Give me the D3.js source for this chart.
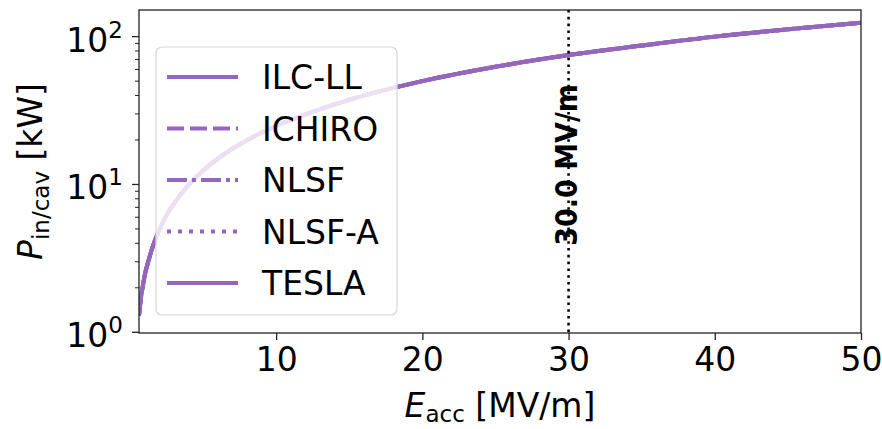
<!DOCTYPE html>
<html><head><meta charset="utf-8">
<script src="https://cdn.jsdelivr.net/npm/d3@7"></script>
<style>
body{margin:0;background:#fff}
svg{display:block}
text{font-family:"DejaVu Sans",sans-serif;fill:#000}
</style>
</head><body>
<svg id="chart" width="882" height="429"></svg>
<script>
// Accelerating gradient [MV/m] and input power per cavity [kW]
const eAcc = [0.62, 0.7, 0.8, 0.9, 1.0, 1.25, 1.5, 2, 2.5, 3, 4, 5, 6, 8, 10, 12.5, 15, 20, 25, 30, 35, 40, 45, 50];
const pIn  = [1.3, 1.55, 1.85, 2.1, 2.4, 3.0, 3.65, 4.9, 6.2, 7.4, 9.9, 12.4, 14.9, 19.9, 24.9, 31, 37.4, 50, 62.5, 75, 87, 100, 112, 124];

// Cavity shapes (all share the same power curve) and their line styles
const seriesNames = ["ILC-LL", "ICHIRO", "NLSF", "NLSF-A", "TESLA"];
const seriesDash  = [null, "17,6", "20,5,4,5", "4,7", null];

const xTicks = [10, 20, 30, 40, 50];
const yTickExp = [0, 1, 2];
const markerE = 30;
const markerLabel = "30.0 MV/m";

const m = {left: 139, right: 861, top: 10, bottom: 333};
const purple = "#9467bd";

const svg = d3.select("#chart");

const x = d3.scaleLinear().domain([0.62, 50]).range([m.left, m.right]);
const y = d3.scaleLog().domain([0.989, 151.4]).range([m.bottom, m.top]);

svg.append("defs").append("clipPath").attr("id", "plotclip")
  .append("rect").attr("x", m.left).attr("y", m.top)
  .attr("width", m.right - m.left).attr("height", m.bottom - m.top);

const pts = eAcc.map((e, i) => [e, pIn[i]]);
const line = d3.line().x(d => x(d[0])).y(d => y(d[1])).curve(d3.curveMonotoneX);

const plot = svg.append("g").attr("clip-path", "url(#plotclip)");
seriesNames.forEach((name, i) => {
  plot.append("path")
    .datum(pts)
    .attr("d", line)
    .attr("fill", "none")
    .attr("stroke", purple)
    .attr("stroke-width", 4)
    .attr("stroke-dasharray", seriesDash[i])
    .attr("stroke-linejoin", "round");
});

// vertical marker at the design gradient
plot.append("line")
  .attr("x1", x(markerE)).attr("x2", x(markerE))
  .attr("y1", m.top).attr("y2", m.bottom)
  .attr("stroke", "#000").attr("stroke-width", 2.6)
  .attr("stroke-dasharray", "2.6,4.2");

svg.append("text")
  .attr("transform", `translate(${x(markerE) + 8},165) rotate(-90) scale(1,1.12)`)
  .attr("text-anchor", "middle")
  .attr("font-size", 27)
  .attr("font-weight", "bold")
  .text(markerLabel);

// axes frame
svg.append("rect")
  .attr("x", m.left).attr("y", m.top)
  .attr("width", m.right - m.left).attr("height", m.bottom - m.top)
  .attr("fill", "none").attr("stroke", "#222").attr("stroke-width", 1.3);

// x axis
const xAxis = d3.axisBottom(x).tickValues(xTicks).tickSize(7).tickPadding(8).tickFormat(d3.format("d"));
const gx = svg.append("g").attr("transform", `translate(0,${m.bottom})`).call(xAxis);
gx.select(".domain").remove();
gx.selectAll(".tick line").attr("stroke", "#222").attr("stroke-width", 1.3);
gx.selectAll(".tick text").attr("font-size", 33).attr("font-family", "DejaVu Sans").attr("fill", "#000").attr("dy", "0.71em");

// y axis: major and minor ticks on the log scale
const minor = y.ticks().filter(v => {
  const l = Math.log10(v);
  return Math.abs(l - Math.round(l)) > 1e-9 && v >= y.domain()[0] && v <= y.domain()[1];
});
const gy = svg.append("g");
gy.selectAll("line.minor").data(minor).join("line")
  .attr("class", "minor")
  .attr("x1", m.left - 4).attr("x2", m.left)
  .attr("y1", d => y(d)).attr("y2", d => y(d))
  .attr("stroke", "#222").attr("stroke-width", 1);
gy.selectAll("line.major").data(yTickExp).join("line")
  .attr("class", "major")
  .attr("x1", m.left - 7).attr("x2", m.left)
  .attr("y1", d => y(Math.pow(10, d))).attr("y2", d => y(Math.pow(10, d)))
  .attr("stroke", "#222").attr("stroke-width", 1.3);
const yl = gy.selectAll("text.ylab").data(yTickExp).join("text")
  .attr("class", "ylab")
  .attr("x", 123)
  .attr("y", d => y(Math.pow(10, d)) + 15)
  .attr("text-anchor", "end")
  .attr("font-size", 33);
yl.append("tspan").text("10");
yl.append("tspan").attr("font-size", 23).attr("dy", -14).text(d => d);

// axis titles
const xt = svg.append("text")
  .attr("x", (m.left + m.right) / 2).attr("y", 417)
  .attr("text-anchor", "middle").attr("font-size", 33);
xt.append("tspan").attr("font-style", "italic").text("E");
xt.append("tspan").attr("font-size", 23).attr("dy", 5).text("acc");
xt.append("tspan").attr("dy", -5).text(" [MV/m]");

const yt = svg.append("text")
  .attr("transform", `translate(42,${(m.top + m.bottom) / 2}) rotate(-90)`)
  .attr("text-anchor", "middle").attr("font-size", 33);
yt.append("tspan").attr("font-style", "italic").text("P");
yt.append("tspan").attr("font-size", 23).attr("dy", 7).text("in/cav");
yt.append("tspan").attr("dy", -7).text(" [kW]");

// legend
const lg = svg.append("g");
lg.append("rect")
  .attr("x", 156).attr("y", 47).attr("width", 241).attr("height", 268)
  .attr("rx", 6).attr("ry", 6)
  .attr("fill", "#fff").attr("fill-opacity", 0.8)
  .attr("stroke", "#d6d6d6").attr("stroke-width", 1.2);
const rowY = d3.scalePoint().domain(seriesNames).range([77, 283]);
seriesNames.forEach((name, i) => {
  const cy = rowY(name);
  lg.append("line")
    .attr("x1", 167).attr("x2", 238).attr("y1", cy).attr("y2", cy)
    .attr("stroke", purple).attr("stroke-width", 4)
    .attr("stroke-dasharray", seriesDash[i]);
  lg.append("text")
    .attr("x", 262).attr("y", cy + 12)
    .attr("font-size", 33)
    .text(name);
});
</script>
</body></html>
